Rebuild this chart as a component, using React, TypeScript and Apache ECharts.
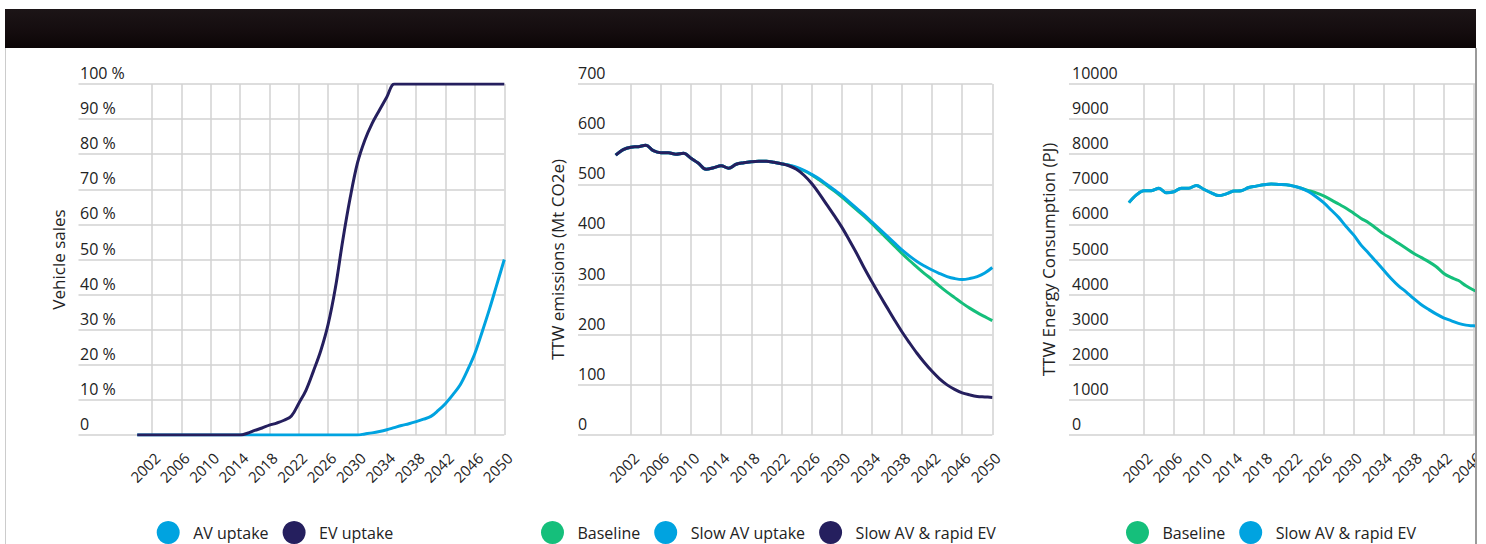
import React, { useEffect, useRef } from "react";
import * as echarts from "echarts";

// ---------- DATA ----------
// Chart 1: vehicle sales share (%), years 2000..2050
const AV_UPTAKE = [
  0, 0, 0, 0, 0, 0, 0, 0, 0, 0,
  0, 0, 0, 0, 0, 0, 0, 0, 0, 0,
  0, 0, 0, 0, 0, 0, 0, 0, 0, 0,
  0, 0.3, 0.6, 1.0, 1.5, 2.1, 2.7, 3.2, 3.8, 4.5,
  5.3, 7.0, 9.0, 11.5, 14.3, 18.5, 23.3, 29.5, 36, 43,
  50,
];
const EV_UPTAKE = [
  0, 0, 0, 0, 0, 0, 0, 0, 0, 0,
  0, 0, 0, 0, 0, 0.5, 1.3, 2.0, 2.8, 3.4,
  4.2, 5.4, 9.0, 12.8, 18.2, 24, 31.5, 42, 55.5, 67.5,
  77.5, 84, 88.8, 92.6, 96.3, 100, 100, 100, 100, 100,
  100, 100, 100, 100, 100, 100, 100, 100, 100, 100,
  100,
];

// Chart 2: TTW emissions (Mt CO2e), years 2000..2050
const EMIS_BASELINE = [
  558, 569, 574, 575, 578, 567, 563, 563, 560, 562,
  552, 542, 530, 533, 537, 532, 540, 543, 545, 546,
  546, 544, 541, 538, 533, 527, 519, 509, 498, 487,
  475, 462, 449, 436, 422, 407, 392, 377, 362, 348,
  335, 322, 310, 297, 285, 274, 263, 253, 244, 236,
  228,
];
const EMIS_SLOW_AV = [
  558, 569, 574, 575, 578, 567, 563, 563, 560, 562,
  552, 542, 530, 533, 537, 532, 540, 543, 545, 546,
  546, 544, 541, 538, 534, 528, 520, 511, 500, 489,
  478, 465, 452, 439, 425, 411, 397, 383, 369, 357,
  346, 337, 329, 322, 316, 312, 310, 312, 316, 323,
  334,
];
const EMIS_SLOW_AV_RAPID_EV = [
  558, 569, 574, 575, 578, 567, 563, 563, 560, 562,
  552, 542, 530, 533, 537, 532, 540, 543, 545, 546,
  546, 544, 541, 537, 530, 518, 502, 482, 460, 438,
  415, 389, 362, 333, 306, 280, 255, 230, 206, 184,
  163, 144, 127, 112, 100, 91, 84, 80, 77, 76,
  75,
];

// Chart 3: TTW energy consumption (PJ), years 2000..2047 (visible part)
const ENERGY_BASELINE = [
  6620, 6840, 6960, 6960, 7030, 6900, 6930, 7030, 7030, 7110,
  7000, 6900, 6820, 6870, 6950, 6960, 7050, 7090, 7130, 7150,
  7140, 7130, 7090, 7030, 6960, 6900, 6810, 6700, 6580, 6460,
  6320, 6170, 6050, 5890, 5730, 5600, 5460, 5320, 5180, 5060,
  4940, 4800, 4610, 4490, 4400, 4250, 4130, 4030,
];
const ENERGY_SLOW_AV_RAPID_EV = [
  6620, 6840, 6960, 6960, 7030, 6900, 6930, 7030, 7030, 7110,
  7000, 6900, 6820, 6870, 6950, 6960, 7050, 7090, 7130, 7150,
  7140, 7130, 7090, 7030, 6930, 6790, 6620, 6410, 6200, 5940,
  5700, 5410, 5180, 4940, 4700, 4460, 4250, 4080, 3890, 3720,
  3580, 3450, 3340, 3260, 3180, 3130, 3110, 3090,
];

const DATA_START_YEAR = 2000;
const END_YEAR = 2050;
const AXIS_START_1 = 1992;
const AXIS_START_2 = 1995;
const AXIS_START_3 = 1992;
const LAST_LABEL_1 = 2050;
const LAST_LABEL_2 = 2050;
const LAST_LABEL_3 = 2046;

const Y1_MAX = 100;
const Y1_STEP = 10;
const Y2_MAX = 700;
const Y2_STEP = 100;
const Y3_MAX = 10000;
const Y3_STEP = 1000;

const LEGEND_1 = ["AV uptake", "EV uptake"];
const LEGEND_2 = ["Baseline", "Slow AV uptake", "Slow AV & rapid EV"];
const LEGEND_3 = ["Baseline", "Slow AV & rapid EV"];

// ---------- STYLE ----------
const LIGHT_BLUE = "#00a3e0";
const NAVY = "#251f5e";
const GREEN = "#15bf7b";
const GRID_COLOR = "#d2d2d2";
const TEXT = "#222222";
const FONT = "'Open Sans', 'Noto Sans', sans-serif";

function years(start: number): string[] {
  const out: string[] = [];
  for (let y = start; y <= END_YEAR; y++) out.push(String(y));
  return out;
}

function pad(values: number[], axisStart: number): (number | null)[] {
  const lead = DATA_START_YEAR - axisStart;
  return (new Array(lead).fill(null) as (number | null)[]).concat(values);
}

const isGridYear = (v: string) => {
  const y = Number(v);
  return y >= 2002 && (y - 2002) % 4 === 0;
};

function xAxis(gridIndex: number, start: number, lastLabel: number) {
  return {
    type: "category",
    gridIndex,
    data: years(start),
    boundaryGap: false,
    axisLine: { show: false },
    axisTick: { show: false },
    axisLabel: {
      interval: (_i: number, v: string) => isGridYear(v) && Number(v) <= lastLabel,
      rotate: 45,
      margin: 15,
      verticalAlign: "top",
      fontSize: 15,
      color: TEXT,
      fontFamily: FONT,
    },
    splitLine: {
      show: true,
      interval: (_i: number, v: string) => isGridYear(v),
      lineStyle: { color: GRID_COLOR, width: 1.5 },
    },
  };
}

function yAxis(
  gridIndex: number,
  max: number,
  step: number,
  name: string,
  formatter: (v: number) => string,
  margin: number
) {
  return {
    type: "value",
    gridIndex,
    min: 0,
    max,
    interval: step,
    name,
    nameLocation: "middle",
    nameGap: 12,
    nameTextStyle: { fontSize: 17, color: TEXT, fontFamily: FONT },
    axisLine: { show: false },
    axisTick: { show: false },
    axisLabel: {
      inside: true,
      margin,
      verticalAlign: "bottom",
      padding: [0, 0, 3, 0],
      fontSize: 16,
      color: TEXT,
      fontFamily: FONT,
      formatter,
    },
    splitLine: { show: true, lineStyle: { color: GRID_COLOR, width: 1.5 } },
  };
}

function line(
  name: string,
  idx: number,
  data: (number | null)[],
  color: string
) {
  return {
    type: "line",
    name,
    xAxisIndex: idx,
    yAxisIndex: idx,
    data,
    smooth: 0.35,
    showSymbol: false,
    symbol: "none",
    connectNulls: false,
    lineStyle: { color, width: 3 },
    itemStyle: { color },
  };
}

function legend(left: number, names: string[], colors: string[]) {
  return {
    left,
    top: 521,
    orient: "horizontal",
    padding: 0,
    icon: "circle",
    itemWidth: 24,
    itemHeight: 23,
    itemGap: 14,
    selectedMode: false,
    textStyle: {
      fontSize: 16,
      color: TEXT,
      fontFamily: FONT,
      padding: [0, 0, 0, 8],
    },
    data: names.map((n, i) => ({ name: n, itemStyle: { color: colors[i] } })),
  };
}

export default function App() {
  const ref = useRef<HTMLDivElement>(null);

  useEffect(() => {
    if (!ref.current) return;
    const chart = echarts.init(ref.current, null, { renderer: "svg" });

    const option = {
      animation: false,
      backgroundColor: "#ffffff",
      textStyle: { fontFamily: FONT },
      grid: [
        { left: 78.5, top: 84, width: 425.8, height: 351 },
        { left: 578, top: 84, width: 414.3, height: 351 },
        { left: 1069, top: 84, width: 434.4, height: 351 },
      ],
      xAxis: [
        xAxis(0, AXIS_START_1, LAST_LABEL_1),
        xAxis(1, AXIS_START_2, LAST_LABEL_2),
        xAxis(2, AXIS_START_3, LAST_LABEL_3),
      ],
      yAxis: [
        yAxis(0, Y1_MAX, Y1_STEP, "Vehicle sales", (v) => (v === 0 ? "0" : `${v} %`), 1.5),
        yAxis(1, Y2_MAX, Y2_STEP, "TTW emissions (Mt CO2e)", (v) => String(v), 0),
        yAxis(2, Y3_MAX, Y3_STEP, "TTW Energy Consumption (PJ)", (v) => String(v), 3),
      ],
      legend: [
        legend(156.7, LEGEND_1, [LIGHT_BLUE, NAVY]),
        legend(541, LEGEND_2, [GREEN, LIGHT_BLUE, NAVY]),
        legend(1126, LEGEND_3, [GREEN, LIGHT_BLUE]),
      ],
      series: [
        line("AV uptake", 0, pad(AV_UPTAKE, AXIS_START_1), LIGHT_BLUE),
        line("EV uptake", 0, pad(EV_UPTAKE, AXIS_START_1), NAVY),
        line("Baseline", 1, pad(EMIS_BASELINE, AXIS_START_2), GREEN),
        line("Slow AV uptake", 1, pad(EMIS_SLOW_AV, AXIS_START_2), LIGHT_BLUE),
        line("Slow AV & rapid EV", 1, pad(EMIS_SLOW_AV_RAPID_EV, AXIS_START_2), NAVY),
        line("Baseline", 2, pad(ENERGY_BASELINE, AXIS_START_3), GREEN),
        line("Slow AV & rapid EV", 2, pad(ENERGY_SLOW_AV_RAPID_EV, AXIS_START_3), LIGHT_BLUE),
      ],
      graphic: [
        {
          type: "rect",
          z: 100,
          silent: true,
          shape: { x: 5, y: 9, width: 1471, height: 39 },
          style: {
            fill: new echarts.graphic.LinearGradient(0, 0, 0, 1, [
              { offset: 0, color: "#1c1517" },
              { offset: 0.6, color: "#140c0e" },
              { offset: 1, color: "#0b0506" },
            ]),
          },
        },
        {
          type: "rect",
          z: 100,
          silent: true,
          shape: { x: 1476, y: 0, width: 80, height: 544 },
          style: { fill: "#ffffff" },
        },
        {
          type: "line",
          z: 101,
          silent: true,
          shape: { x1: 5.5, y1: 48, x2: 5.5, y2: 544 },
          style: { stroke: "#cccccc", lineWidth: 1 },
        },
        {
          type: "line",
          z: 101,
          silent: true,
          shape: { x1: 1476, y1: 48, x2: 1476, y2: 544 },
          style: { stroke: "#9a9a9a", lineWidth: 2 },
        },
      ],
    };

    chart.setOption(option as any);
    return () => chart.dispose();
  }, []);

  return (
    <div
      style={{
        position: "fixed",
        left: 0,
        top: 0,
        width: 1486,
        height: 544,
        overflow: "hidden",
        background: "#ffffff",
      }}
    >
      <div ref={ref} style={{ width: 1540, height: 544 }} />
    </div>
  );
}
